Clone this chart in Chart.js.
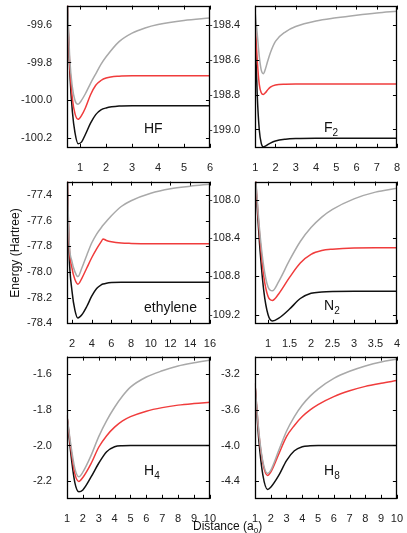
<!DOCTYPE html>
<html><head><meta charset="utf-8">
<script src="https://cdn.jsdelivr.net/npm/chart.js@4.4.1/dist/chart.umd.min.js"></script>
<style>
html,body{margin:0;padding:0;background:#fff;width:407px;height:533px;overflow:hidden;}
body{position:relative;font-family:"Liberation Sans",Arial,Helvetica,sans-serif;color:#111;}
canvas{position:absolute;}
.lbl{position:absolute;font-size:14px;line-height:14px;white-space:nowrap;color:#111;z-index:5;}
.lbl .s{font-size:10px;position:relative;top:4px;}
.ttl{position:absolute;font-size:12px;line-height:12px;white-space:nowrap;color:#111;z-index:5;}
.ttl .s{font-size:8px;position:relative;top:3px;}
</style></head>
<body>
<div class="lbl" style="left:144px;top:121px;">HF</div>
<div class="lbl" style="left:324px;top:120px;">F<span class="s">2</span></div>
<div class="lbl" style="left:144px;top:300px;">ethylene</div>
<div class="lbl" style="left:324px;top:298px;">N<span class="s">2</span></div>
<div class="lbl" style="left:144px;top:463px;">H<span class="s">4</span></div>
<div class="lbl" style="left:324px;top:463px;">H<span class="s">8</span></div>
<div class="ttl" style="left:193px;top:520px;">Distance (a<span class="s">0</span>)</div>
<div class="ttl" style="left:-45px;top:247px;width:120px;text-align:center;transform:rotate(-90deg);">Energy (Hartree)</div>
<script>
// ---------- data ----------
const hfX     = [0.5, 0.6, 0.7, 0.8, 0.92, 1.05, 1.2, 1.4, 1.6, 1.8, 2, 2.5, 3, 3.5, 4, 5, 6];
const hfGray  = [-99.42, -99.78, -99.93, -100.0, -100.02, -100.0, -99.965, -99.91, -99.86, -99.81, -99.77, -99.69, -99.645, -99.618, -99.6, -99.578, -99.565];
const hfRed   = [-99.45, -99.82, -99.99, -100.07, -100.1, -100.08, -100.04, -99.97, -99.92, -99.895, -99.882, -99.872, -99.87, -99.87, -99.87, -99.87, -99.87];
const hfBlack = [-99.48, -99.85, -100.06, -100.17, -100.228, -100.22, -100.18, -100.12, -100.075, -100.05, -100.04, -100.03, -100.028, -100.028, -100.028, -100.028, -100.028];
const hfXTicks = [1, 2, 3, 4, 5, 6];
const hfYTicks = [-100.2, -100.0, -99.8, -99.6];

const f2X     = [1.0, 1.1, 1.2, 1.3, 1.4, 1.5, 1.6, 1.75, 2, 2.5, 3, 4, 5, 6, 7, 8];
const f2Gray  = [-198.33, -198.45, -198.58, -198.66, -198.68, -198.655, -198.615, -198.56, -198.495, -198.44, -198.41, -198.378, -198.36, -198.345, -198.332, -198.322];
const f2Red   = [-198.4, -198.6, -198.74, -198.79, -198.8, -198.79, -198.775, -198.757, -198.745, -198.741, -198.74, -198.74, -198.74, -198.74, -198.74, -198.74];
const f2Black = [-198.45, -198.8, -199.0, -199.08, -199.1, -199.095, -199.088, -199.078, -199.066, -199.056, -199.052, -199.05, -199.05, -199.05, -199.05, -199.05];
const f2XTicks = [1, 2, 3, 4, 5, 6, 7, 8];
const f2YTicks = [-199.0, -198.8, -198.6, -198.4];

const etX     = [1.5, 1.7, 2, 2.3, 2.6, 3, 3.5, 4, 4.5, 5, 5.15, 5.5, 6, 7, 8, 10, 12, 14, 16];
const etGray  = [-77.15, -77.74, -77.92, -78.0, -78.037, -77.97, -77.87, -77.775, -77.705, -77.652, -77.637, -77.605, -77.562, -77.49, -77.445, -77.387, -77.352, -77.332, -77.316];
const etRed   = [-77.18, -77.77, -77.97, -78.06, -78.096, -78.05, -77.97, -77.89, -77.82, -77.76, -77.743, -77.755, -77.765, -77.775, -77.778, -77.78, -77.78, -77.78, -77.78];
const etBlack = [-77.2, -77.85, -78.15, -78.3, -78.36, -78.335, -78.27, -78.19, -78.13, -78.1, -78.095, -78.088, -78.083, -78.08, -78.08, -78.08, -78.08, -78.08, -78.08];
const etXTicks = [2, 4, 6, 8, 10, 12, 14, 16];
const etYTicks = [-78.4, -78.2, -78.0, -77.8, -77.6, -77.4];

const n2X     = [0.7, 0.8, 0.9, 1.0, 1.1, 1.25, 1.5, 1.75, 2, 2.25, 2.5, 3, 3.5, 4];
const n2Gray  = [-107.7, -108.3, -108.7, -108.91, -108.95, -108.85, -108.63, -108.435, -108.29, -108.18, -108.1, -107.99, -107.92, -107.88];
const n2Red   = [-107.72, -108.35, -108.8, -109.01, -109.05, -108.98, -108.81, -108.66, -108.57, -108.53, -108.515, -108.502, -108.5, -108.5];
const n2Black = [-107.75, -108.45, -108.95, -109.2, -109.265, -109.235, -109.14, -109.03, -108.975, -108.962, -108.957, -108.955, -108.955, -108.955];
const n2XTicks = [1, 1.5, 2, 2.5, 3, 3.5, 4];
const n2YTicks = [-109.2, -108.8, -108.4, -108.0];

const h4X     = [1, 1.25, 1.5, 1.75, 2, 2.5, 3, 3.5, 4, 4.5, 5, 6, 7, 8, 9, 10];
const h4Gray  = [-1.83, -2.0, -2.13, -2.176, -2.15, -2.06, -1.95, -1.86, -1.785, -1.722, -1.672, -1.615, -1.58, -1.553, -1.535, -1.52];
const h4Red   = [-1.83, -2.02, -2.16, -2.202, -2.18, -2.105, -2.01, -1.945, -1.897, -1.862, -1.838, -1.807, -1.787, -1.773, -1.764, -1.757];
const h4Black = [-1.83, -2.05, -2.21, -2.26, -2.25, -2.18, -2.1, -2.035, -2.007, -2.001, -2.0, -2.0, -2.0, -2.0, -2.0, -2.0];
const h4XTicks = [1, 2, 3, 4, 5, 6, 7, 8, 9, 10];
const h4YTicks = [-2.2, -2.0, -1.8, -1.6];

const h8X     = [1, 1.25, 1.5, 1.8, 2, 2.5, 3, 3.5, 4, 4.5, 5, 6, 7, 8, 9, 10];
const h8Gray  = [-3.3, -3.85, -4.18, -4.315, -4.28, -4.06, -3.84, -3.675, -3.545, -3.445, -3.365, -3.245, -3.165, -3.105, -3.06, -3.03];
const h8Red   = [-3.3, -3.87, -4.2, -4.337, -4.3, -4.1, -3.9, -3.775, -3.675, -3.6, -3.54, -3.45, -3.385, -3.335, -3.3, -3.27];
const h8Black = [-3.3, -3.95, -4.33, -4.494, -4.47, -4.34, -4.17, -4.06, -4.015, -4.004, -4.0, -4.0, -4.0, -4.0, -4.0, -4.0];
const h8XTicks = [1, 2, 3, 4, 5, 6, 7, 8, 9, 10];
const h8YTicks = [-4.4, -4.0, -3.6, -3.2];

// ---------- layout ----------
const FONT = '"Liberation Sans", Arial, Helvetica, sans-serif';
const COLORS = {gray: '#a9a9a9', red: '#f03c3c', black: '#111111'};

const panels = [
  {L: 67,  R: 210, T: 6,   B: 148, xMin: 0.5, xMax: 6,  yMin: -100.25,  yMax: -99.5,   x: hfX, g: hfGray, r: hfRed, b: hfBlack, xt: hfXTicks, yt: hfYTicks},
  {L: 255, R: 397, T: 6,   B: 148, xMin: 1,   xMax: 8,  yMin: -199.105, yMax: -198.29, x: f2X, g: f2Gray, r: f2Red, b: f2Black, xt: f2XTicks, yt: f2YTicks},
  {L: 67,  R: 210, T: 182, B: 324, xMin: 1.5, xMax: 16, yMin: -78.405,  yMax: -77.296, x: etX, g: etGray, r: etRed, b: etBlack, xt: etXTicks, yt: etYTicks},
  {L: 255, R: 397, T: 182, B: 324, xMin: 0.7, xMax: 4,  yMin: -109.294, yMax: -107.81, x: n2X, g: n2Gray, r: n2Red, b: n2Black, xt: n2XTicks, yt: n2YTicks},
  {L: 67,  R: 210, T: 357, B: 499, xMin: 1,   xMax: 10, yMin: -2.3,     yMax: -1.5,    x: h4X, g: h4Gray, r: h4Red, b: h4Black, xt: h4XTicks, yt: h4YTicks},
  {L: 255, R: 397, T: 357, B: 499, xMin: 1,   xMax: 10, yMin: -4.6,     yMax: -3.0,    x: h8X, g: h8Gray, r: h8Red, b: h8Black, xt: h8XTicks, yt: h8YTicks}
];

const frameTicks = {
  id: 'frameTicks',
  afterDatasetsDraw(chart) {
    const {ctx, chartArea: a, scales: {x, y}} = chart;
    const TL = 4;
    ctx.save();
    ctx.strokeStyle = '#000';
    ctx.lineWidth = 1;
    ctx.beginPath();
    x.ticks.forEach(t => {
      const px = Math.round(x.getPixelForValue(t.value)) + 0.5;
      ctx.moveTo(px, a.bottom); ctx.lineTo(px, a.bottom - TL);
      ctx.moveTo(px, a.top); ctx.lineTo(px, a.top + TL);
    });
    y.ticks.forEach(t => {
      const py = Math.round(y.getPixelForValue(t.value)) + 0.5;
      ctx.moveTo(a.left, py); ctx.lineTo(a.left + TL, py);
      ctx.moveTo(a.right, py); ctx.lineTo(a.right - TL, py);
    });
    ctx.stroke();
    ctx.lineWidth = 1.3;
    ctx.strokeRect(Math.round(a.left) + 0.5, Math.round(a.top) + 0.5, Math.round(a.right - a.left) - 1, Math.round(a.bottom - a.top) - 1);
    ctx.restore();
  }
};

function series(xs, ys, color) {
  return {
    data: xs.map((v, i) => ({x: v, y: ys[i]})),
    borderColor: color,
    borderWidth: 1.5,
    pointRadius: 0,
    fill: false,
    cubicInterpolationMode: 'monotone'
  };
}

function build(p, w, h, z) {
  const cv = document.createElement('canvas');
  cv.width = w; cv.height = h;
  cv.style.width = w + 'px';
  cv.style.height = h + 'px';
  cv.style.left = '0px';
  cv.style.top = '0px';
  cv.style.zIndex = z;
  document.body.appendChild(cv);
  const tickFont = {family: FONT, size: 11};
  const chart = new Chart(cv, {
    type: 'line',
    data: {datasets: [series(p.x, p.g, COLORS.gray), series(p.x, p.r, COLORS.red), series(p.x, p.b, COLORS.black)]},
    options: {
      responsive: false,
      maintainAspectRatio: false,
      animation: false,
      devicePixelRatio: 1,
      layout: {padding: {left: 2, top: 8, right: 8, bottom: 2}},
      plugins: {legend: {display: false}, tooltip: {enabled: false}, title: {display: false}},
      scales: {
        x: {
          type: 'linear', min: p.xMin, max: p.xMax,
          grid: {display: false}, border: {display: false},
          afterBuildTicks: s => { s.ticks = p.xt.map(v => ({value: v})); },
          ticks: {autoSkip: false, maxRotation: 0, minRotation: 0, padding: 6, color: '#222', font: tickFont,
                  callback: v => String(v)}
        },
        y: {
          type: 'linear', min: p.yMin, max: p.yMax,
          grid: {display: false}, border: {display: false},
          afterBuildTicks: s => { s.ticks = p.yt.map(v => ({value: v})); },
          ticks: {autoSkip: false, padding: 7, color: '#222', font: tickFont,
                  callback: v => Number(v).toFixed(1)}
        }
      }
    },
    plugins: [frameTicks]
  });
  return {cv, chart};
}

panels.forEach((p, idx) => {
  const z = (idx % 2 === 1) ? '3' : '1';
  let w = p.R - p.L + 60, h = p.B - p.T + 40;
  let res = build(p, w, h, z);
  for (let k = 0; k < 4; k++) {
    const a = res.chart.chartArea;
    const nw = Math.round(a.left + (p.R - p.L) + (w - a.right));
    const nh = Math.round(a.top + (p.B - p.T) + (h - a.bottom));
    if (nw === w && nh === h) break;
    res.chart.destroy();
    res.cv.remove();
    w = nw; h = nh;
    res = build(p, w, h, z);
  }
  const a = res.chart.chartArea;
  res.cv.style.left = Math.round(p.L - a.left) + 'px';
  res.cv.style.top = Math.round(p.T - a.top) + 'px';
});
</script>
</body></html>
